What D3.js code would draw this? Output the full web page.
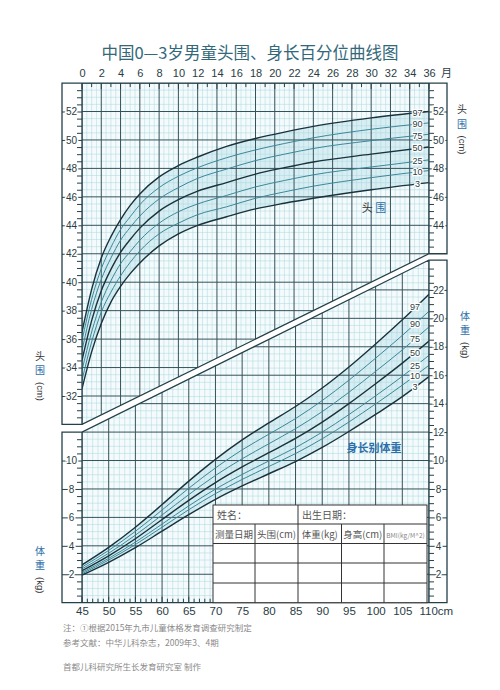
<!DOCTYPE html>
<html><head><meta charset="utf-8">
<script src="https://cdn.jsdelivr.net/npm/d3@7"></script>
<style>
html,body{margin:0;padding:0;background:#fff;}
svg{display:block;font-family:"Noto Sans CJK SC","Noto Sans",sans-serif;}
</style></head><body>
<svg id="chart" width="500" height="690"></svg>
<script>
// ---------- DATA ----------
const titleText = "中国0—3岁男童头围、身长百分位曲线图";
const percentiles = ["3","10","25","50","75","90","97"];

// Head circumference (cm) by age (months)
const months = [0,1,2,3,4,5,6,8,10,12,15,18,21,24,30,36];
const headP3  = [32.5,35.1,37.1,38.6,39.7,40.6,41.35,42.55,43.4,44.0,44.6,45.15,45.55,45.9,46.5,47.0];
const headP10 = [33.1,35.8,37.9,39.3,40.45,41.4,42.2,43.4,44.15,44.75,45.3,45.9,46.35,46.75,47.35,47.85];
const headP25 = [33.8,36.5,38.6,40.1,41.3,42.15,42.95,44.15,44.95,45.5,46.1,46.7,47.15,47.55,48.1,48.6];
const headP50 = [34.5,37.3,39.4,40.9,42.1,43.0,43.8,45.0,45.8,46.4,47.0,47.6,48.05,48.45,49.0,49.5];
const headP75 = [35.2,38.1,40.2,41.7,42.95,43.85,44.65,45.85,46.65,47.3,47.95,48.55,49.0,49.4,49.95,50.4];
const headP90 = [35.9,38.8,40.95,42.45,43.7,44.6,45.45,46.65,47.45,48.05,48.75,49.3,49.75,50.15,50.75,51.2];
const headP97 = [36.5,39.5,41.7,43.2,44.4,45.4,46.2,47.4,48.2,48.8,49.55,50.1,50.55,50.95,51.55,52.0];

// Weight (kg) for length (cm)
const lengths = [45,50,55,60,65,70,75,80,85,90,95,100,105,110];
const wP3  = [1.94,2.84,3.87,5.03,6.19,7.27,8.21,9.07,9.93,10.92,12.04,13.24,14.49,15.9];
const wP10 = [2.04,3.00,4.09,5.31,6.54,7.67,8.67,9.58,10.49,11.53,12.71,13.98,15.30,16.7];
const wP25 = [2.13,3.12,4.26,5.53,6.81,7.99,9.02,9.97,10.91,12.00,13.23,14.55,15.92,17.4];
const wP50 = [2.25,3.30,4.50,5.85,7.20,8.45,9.55,10.55,11.55,12.70,14.00,15.40,16.85,18.4];
const wP75 = [2.38,3.48,4.75,6.17,7.60,8.95,10.12,11.18,12.24,13.44,14.80,16.27,17.78,19.4];
const wP90 = [2.51,3.68,5.02,6.52,8.05,9.48,10.75,11.85,12.95,14.22,15.65,17.20,18.80,20.5];
const wP97 = [2.66,3.89,5.31,6.90,8.55,10.08,11.45,12.65,13.80,15.10,16.58,18.20,19.90,21.7];

// Tick labels
const monthTicks = [0,2,4,6,8,10,12,14,16,18,20,22,24,26,28,30,32,34,36];
const lengthTicks = [45,50,55,60,65,70,75,80,85,90,95,100,105,110];
const headTicksLeft = [32,34,36,38,40,42,44,46,48,50,52];
const headTicksRight = [44,46,48,50,52];
const weightTicksLeft = [2,4,6,8,10];
const weightTicksRight = [2,4,6,8,10,12,14,16,18,20,22];

const tableRow1 = ["姓名：","出生日期："];
const tableHeaders = ["测量日期","头围(cm)","体重(kg)","身高(cm)","BMI(kg/M^2)"];
const notes = ["注：①根据2015年九市儿童体格发育调查研究制定","参考文献：中华儿科杂志，2009年3、4期","首都儿科研究所生长发育研究室  制作"];

// ---------- DRAW ----------
const svg = d3.select("#chart");
const DARK = "#24404a", GRIDMAJ = "#34525c", GRIDMIN = "#a9d7df";
const NUMFONT = "Liberation Sans, Arial, sans-serif";
const xM = d3.scaleLinear().domain([0,36]).range([82,429]);
const yH = d3.scaleLinear().domain([32,52]).range([396,111.5]);
const xL = d3.scaleLinear().domain([45,110]).range([82,429]);
const yW = d3.scaleLinear().domain([0,22]).range([602.7,289.9]);
const OUTL = 62, OUTR = 447;
const topY = yH(54), hBL = yH(30), hBR = yH(42), wTL = yW(12), wTR = yW(24.1), botY = yW(0);

const headPoly = [[xM(0),topY],[xM(36),topY],[xM(36),hBR],[xM(0),hBL]];
const wPoly = [[xL(45),wTL],[xL(110),wTR],[xL(110),botY],[xL(45),botY]];
const defs = svg.append("defs");
defs.append("clipPath").attr("id","clipH").append("polygon").attr("points",headPoly.map(p=>p.join(",")).join(" "));
defs.append("clipPath").attr("id","clipW").append("polygon").attr("points",wPoly.map(p=>p.join(",")).join(" "));

// Title
svg.append("text").attr("x",250).attr("y",58.5).attr("text-anchor","middle")
  .attr("font-size",16.5).attr("font-weight",400).attr("fill","#33687b").text(titleText);

// ----- Head panel -----
const gH = svg.append("g").attr("clip-path","url(#clipH)");
gH.append("polygon").attr("points",headPoly.map(p=>p.join(",")).join(" ")).attr("fill","#f5fbfc");
const headS = [headP3,headP10,headP25,headP50,headP75,headP90,headP97];
gH.append("path").datum(months.map((m,i)=>({m,lo:headP3[i],hi:headP97[i]})))
  .attr("d",d3.area().x(d=>xM(d.m)).y0(d=>yH(d.lo)).y1(d=>yH(d.hi)).curve(d3.curveMonotoneX))
  .attr("fill","#d8eef3");
d3.range(0,36.01,0.5).forEach(m=>{ if(m%2) gH.append("line").attr("x1",xM(m)).attr("x2",xM(m)).attr("y1",topY).attr("y2",hBL).attr("stroke",GRIDMIN).attr("stroke-width",0.5);});
d3.range(30,54.01,0.5).forEach(v=>{ if(v%2) gH.append("line").attr("x1",xM(0)).attr("x2",xM(36)).attr("y1",yH(v)).attr("y2",yH(v)).attr("stroke",GRIDMIN).attr("stroke-width",0.5);});
d3.range(0,36.01,2).forEach(m=>gH.append("line").attr("x1",xM(m)).attr("x2",xM(m)).attr("y1",topY).attr("y2",hBL).attr("stroke",GRIDMAJ).attr("stroke-width",1));
d3.range(30,54.01,2).forEach(v=>gH.append("line").attr("x1",xM(0)).attr("x2",xM(36)).attr("y1",yH(v)).attr("y2",yH(v)).attr("stroke",GRIDMAJ).attr("stroke-width",1));
const lineH = d3.line().x((d,i)=>xM(months[i])).y(d=>yH(d)).curve(d3.curveMonotoneX);
headS.forEach((s,k)=>{
  const dark = (k===0||k===3||k===6);
  gH.append("path").datum(s).attr("d",lineH).attr("fill","none")
    .attr("stroke",dark?"#1a323c":"#3c8798").attr("stroke-width",dark?1.4:1);
});
// top month ticks
d3.range(0,36.01,1).forEach(m=>svg.append("line").attr("x1",xM(m)).attr("x2",xM(m)).attr("y1",topY).attr("y2",topY+(m%2?4:6)).attr("stroke",DARK).attr("stroke-width",1));

// ----- Weight panel -----
const gW = svg.append("g").attr("clip-path","url(#clipW)");
gW.append("polygon").attr("points",wPoly.map(p=>p.join(",")).join(" ")).attr("fill","#f5fbfc");
const wS = [wP3,wP10,wP25,wP50,wP75,wP90,wP97];
gW.append("path").datum(lengths.map((l,i)=>({l,lo:wP3[i],hi:wP97[i]})))
  .attr("d",d3.area().x(d=>xL(d.l)).y0(d=>yW(d.lo)).y1(d=>yW(d.hi)).curve(d3.curveMonotoneX))
  .attr("fill","#d8eef3");
d3.range(45,110.01,1).forEach(l=>{ if(l%5) gW.append("line").attr("x1",xL(l)).attr("x2",xL(l)).attr("y1",wTR).attr("y2",botY).attr("stroke",GRIDMIN).attr("stroke-width",0.5);});
d3.range(0,24.01,0.5).forEach(v=>{ if(v%2) gW.append("line").attr("x1",xL(45)).attr("x2",xL(110)).attr("y1",yW(v)).attr("y2",yW(v)).attr("stroke",GRIDMIN).attr("stroke-width",0.5);});
d3.range(45,110.01,5).forEach(l=>gW.append("line").attr("x1",xL(l)).attr("x2",xL(l)).attr("y1",wTR).attr("y2",botY).attr("stroke",GRIDMAJ).attr("stroke-width",1));
d3.range(0,24.01,2).forEach(v=>gW.append("line").attr("x1",xL(45)).attr("x2",xL(110)).attr("y1",yW(v)).attr("y2",yW(v)).attr("stroke",GRIDMAJ).attr("stroke-width",1));
const lineW = d3.line().x((d,i)=>xL(lengths[i])).y(d=>yW(d)).curve(d3.curveMonotoneX);
wS.forEach((s,k)=>{
  const dark = (k===0||k===3||k===6);
  gW.append("path").datum(s).attr("d",lineW).attr("fill","none")
    .attr("stroke",dark?"#1a323c":"#3c8798").attr("stroke-width",dark?1.4:1);
});
// bottom ticks 45-70
d3.range(45,70.01,1).forEach(l=>svg.append("line").attr("x1",xL(l)).attr("x2",xL(l)).attr("y1",botY).attr("y2",botY-(l%5?4:6)).attr("stroke",DARK).attr("stroke-width",1));

// ----- Frames -----
const frameH = [[OUTL,topY],[OUTR,topY],[OUTR,hBR],[xM(36),hBR],[xM(0),hBL],[OUTL,hBL]];
const frameW = [[OUTL,wTL],[xL(45),wTL],[xL(110),wTR],[OUTR,wTR],[OUTR,botY],[OUTL,botY]];
svg.append("polygon").attr("points",frameH.map(p=>p.join(",")).join(" ")).attr("fill","none").attr("stroke",DARK).attr("stroke-width",1.3);
svg.append("polygon").attr("points",frameW.map(p=>p.join(",")).join(" ")).attr("fill","none").attr("stroke",DARK).attr("stroke-width",1.3);
svg.append("line").attr("x1",xM(0)).attr("x2",xM(0)).attr("y1",topY).attr("y2",hBL).attr("stroke",DARK).attr("stroke-width",1.3);
svg.append("line").attr("x1",xM(36)).attr("x2",xM(36)).attr("y1",topY).attr("y2",hBR).attr("stroke",DARK).attr("stroke-width",1.3);
svg.append("line").attr("x1",xL(45)).attr("x2",xL(45)).attr("y1",wTL).attr("y2",botY).attr("stroke",DARK).attr("stroke-width",1.3);
svg.append("line").attr("x1",xL(110)).attr("x2",xL(110)).attr("y1",wTR).attr("y2",botY).attr("stroke",DARK).attr("stroke-width",1.3);

// ----- Vertical axes -----
function vAxis(scale, side, x, minorVals, majorVals, outer) {
  const mk = side==="left" ? d3.axisLeft : d3.axisRight;
  const g1 = svg.append("g").attr("transform",`translate(${x},0)`)
    .call(mk(scale).tickValues(minorVals).tickSize(5).tickFormat("").tickSizeOuter(0));
  g1.select(".domain").remove();
  g1.selectAll("line").attr("stroke",DARK);
  const len = Math.abs(outer - x);
  const g2 = svg.append("g").attr("transform",`translate(${x},0)`)
    .call(mk(scale).tickValues(majorVals).tickSize(len).tickSizeOuter(0));
  g2.select(".domain").remove();
  g2.selectAll("line").attr("stroke",DARK);
  g2.selectAll("text").attr("x", side==="left" ? -len/2-0.5 : len/2+0.5).attr("text-anchor","middle")
    .attr("font-family",NUMFONT).attr("font-size",10).attr("fill","#2a3d44")
    .attr("stroke","#fff").attr("stroke-width",3).attr("paint-order","stroke");
}
vAxis(yH,"left",xM(0),d3.range(30.5,54,0.5).filter(v=>v%2),headTicksLeft,OUTL);
vAxis(yH,"right",xM(36),d3.range(42.5,54,0.5).filter(v=>v%2),headTicksRight,OUTR);
vAxis(yW,"left",xL(45),d3.range(0.5,12,0.5).filter(v=>v%2),weightTicksLeft,OUTL);
vAxis(yW,"right",xL(110),d3.range(0.5,24,0.5).filter(v=>v%2),weightTicksRight,OUTR);

// ----- Top axis labels -----
const gTop = svg.append("g").attr("transform",`translate(0,${topY})`)
  .call(d3.axisTop(xM).tickValues(monthTicks).tickSize(0).tickPadding(6));
gTop.select(".domain").remove();
gTop.selectAll("text").attr("font-family",NUMFONT).attr("font-size",11).attr("fill","#2a3d44");
svg.append("text").attr("x",xM(36)+12).attr("y",topY-6).attr("font-size",11).attr("fill","#2a3d44").text("月");

// ----- Bottom axis labels -----
const gBot = svg.append("g").attr("transform",`translate(0,${botY})`)
  .call(d3.axisBottom(xL).tickValues(lengthTicks).tickSize(0).tickPadding(4)
    .tickFormat(d=> d===110 ? "110cm" : d));
gBot.select(".domain").remove();
gBot.selectAll("text").attr("font-family",NUMFONT).attr("font-size",11.5).attr("fill","#2a3d44")
  .filter(d=>d===110).attr("text-anchor","start").attr("dx",-10);

// ----- Curve labels -----
headS.forEach((s,k)=>{
  const v = d3.scaleLinear().domain(months).range(s)(34.8);
  svg.append("text").attr("x",xM(34.8)).attr("y",yH(v)+3).attr("text-anchor","middle")
    .attr("font-family",NUMFONT).attr("font-size",9).attr("fill","#2a3d44")
    .attr("stroke","#fff").attr("stroke-width",2.5).attr("paint-order","stroke").text(percentiles[k]);
});
wS.forEach((s,k)=>{
  const v = d3.scaleLinear().domain(lengths).range(s)(107.4);
  svg.append("text").attr("x",xL(107.4)).attr("y",yW(v)+3).attr("text-anchor","middle")
    .attr("font-family",NUMFONT).attr("font-size",9).attr("fill","#2a3d44")
    .attr("stroke","#fff").attr("stroke-width",2.5).attr("paint-order","stroke").text(percentiles[k]);
});

// ----- Panel labels -----
const inH = svg.append("text").attr("x",xM(30.3)).attr("y",yH(45.2)+4).attr("text-anchor","middle").attr("font-size",11);
inH.append("tspan").attr("fill","#333").text("头 ");
inH.append("tspan").attr("fill","#2d6fa8").text("围");
svg.append("text").attr("x",xL(99.7)).attr("y",yW(10.9)+4).attr("text-anchor","middle").attr("font-size",11)
  .attr("font-weight",700).attr("fill","#2d6fa8").text("身长别体重");

// ----- Side axis titles -----
function sideTitle(x, yc1, c1, c2, unit, col1, col2) {
  svg.append("text").attr("x",x).attr("y",yc1+3.8).attr("text-anchor","middle").attr("font-size",10).attr("fill",col1).text(c1);
  svg.append("text").attr("x",x).attr("y",yc1+18.3).attr("text-anchor","middle").attr("font-size",10).attr("fill",col2).text(c2);
  svg.append("text").attr("transform",`translate(${x-3.3},${yc1+26}) rotate(90)`).attr("font-size",9.5)
    .attr("font-family",NUMFONT).attr("fill","#333").text(unit);
}
sideTitle(462,109.5,"头","围","(cm)","#333","#2d6fa8");
sideTitle(40,356,"头","围","(cm)","#333","#2d6fa8");
sideTitle(465,316,"体","重","(kg)","#2d6fa8","#2d6fa8");
sideTitle(40,551,"体","重","(kg)","#2d6fa8","#2d6fa8");

// ----- Record table -----
const tx = [213,255,298,341.5,384,427];
const ty = [505,524,543.5,563,583,botY];
const gT = svg.append("g");
gT.append("rect").attr("x",tx[0]).attr("y",ty[0]).attr("width",tx[5]-tx[0]).attr("height",ty[5]-ty[0]).attr("fill","#fff").attr("stroke","#333").attr("stroke-width",1);
ty.slice(1,5).forEach(y=>gT.append("line").attr("x1",tx[0]).attr("x2",tx[5]).attr("y1",y).attr("y2",y).attr("stroke","#333"));
gT.append("line").attr("x1",tx[2]).attr("x2",tx[2]).attr("y1",ty[0]).attr("y2",ty[1]).attr("stroke","#333");
tx.slice(1,5).forEach(x=>gT.append("line").attr("x1",x).attr("x2",x).attr("y1",ty[1]).attr("y2",ty[5]).attr("stroke","#333"));
gT.append("text").attr("x",tx[0]+4).attr("y",ty[0]+13.5).attr("font-size",10).attr("fill","#555").text(tableRow1[0]);
gT.append("text").attr("x",tx[2]+4).attr("y",ty[0]+13.5).attr("font-size",10).attr("fill","#555").text(tableRow1[1]);
tableHeaders.forEach((h,i)=>gT.append("text").attr("x",(tx[i]+tx[i+1])/2).attr("y",ty[1]+13.5)
  .attr("text-anchor","middle").attr("font-size",i===4?6.5:9.5).attr("fill",i===4?"#888":"#555").text(h));

// ----- Notes -----
notes.forEach((t,i)=>svg.append("text").attr("x",63).attr("y",[631,646,670][i]).attr("font-size",8.5).attr("fill","#8a8a8a").text(t));
</script>
</body></html>
